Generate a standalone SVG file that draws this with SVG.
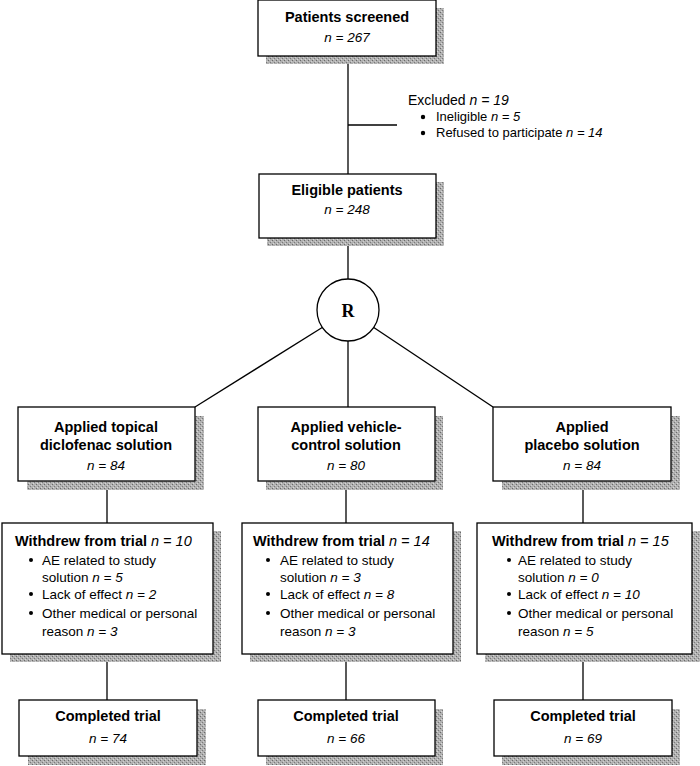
<svg xmlns="http://www.w3.org/2000/svg" width="700" height="766" viewBox="0 0 700 766">
<defs>
<pattern id="stip" width="4" height="4" patternUnits="userSpaceOnUse">
<rect width="4" height="4" fill="#b0b0b0"/>
<rect x="0" y="0" width="1" height="1" fill="#6a6a6a"/>
<rect x="2" y="2" width="1" height="1" fill="#7a7a7a"/>
<rect x="1" y="3" width="1" height="1" fill="#d8d8d8"/>
<rect x="3" y="1" width="1" height="1" fill="#d0d0d0"/>
</pattern>
</defs>
<style>
.box{fill:#fff;stroke:#000;stroke-width:1.3}
.sh{fill:url(#stip)}
.ln{stroke:#000;stroke-width:1.3;fill:none}
text{font-family:"Liberation Sans","DejaVu Sans",sans-serif;font-size:13.5px;fill:#000}
.t{font-weight:bold;font-size:14.5px}
.c{text-anchor:middle}
.i{font-style:italic;font-weight:normal}
.r{font-family:"Liberation Serif",serif;font-weight:bold;font-size:18px}
.ex{font-size:13px}
</style>
<rect width="700" height="766" fill="#fff"/>
<g id="connectors">
<line class="ln" x1="348" y1="56" x2="348" y2="174"/>
<line class="ln" x1="348" y1="125" x2="397" y2="125"/>
<line class="ln" x1="348" y1="238" x2="348" y2="279"/>
<line class="ln" x1="323" y1="327" x2="195" y2="407"/>
<line class="ln" x1="373" y1="327" x2="493" y2="407"/>
<line class="ln" x1="348" y1="341" x2="348" y2="407"/>
<line class="ln" x1="107" y1="481" x2="107" y2="523"/>
<line class="ln" x1="346" y1="481" x2="346" y2="523"/>
<line class="ln" x1="583" y1="481" x2="583" y2="523"/>
<line class="ln" x1="107" y1="654" x2="107" y2="700"/>
<line class="ln" x1="346" y1="654" x2="346" y2="700"/>
<line class="ln" x1="583" y1="654" x2="583" y2="700"/>
</g>
<g id="screened">
<rect class="sh" x="266" y="8" width="178" height="56"/>
<rect class="box" x="258" y="0" width="178" height="56"/>
<text class="t c" x="347" y="22">Patients screened</text>
<text class="c i" x="347" y="42">n = 267</text>
</g>
<g id="excluded">
<text x="408" y="105" style="font-size:14px">Excluded <tspan class="i">n = 19</tspan></text>
<circle cx="423" cy="117" r="2.2"/>
<text class="ex" x="436" y="121">Ineligible <tspan class="i">n = 5</tspan></text>
<circle cx="423" cy="133" r="2.2"/>
<text class="ex" x="436" y="137">Refused to participate <tspan class="i">n = 14</tspan></text>
</g>
<g id="eligible">
<rect class="sh" x="267" y="182" width="177" height="64"/>
<rect class="box" x="259" y="174" width="177" height="64"/>
<text class="t c" x="347" y="195">Eligible patients</text>
<text class="c i" x="347" y="214">n = 248</text>
</g>
<g id="randomize">
<circle class="box" cx="348" cy="310" r="31"/>
<text class="c r" x="348" y="317">R</text>
</g>
<g id="arm1">
<rect class="sh" x="27" y="416" width="177" height="74"/>
<rect class="box" x="18" y="407" width="177" height="74"/>
<text class="t c" x="106" y="432">Applied topical</text>
<text class="t c" x="106" y="450">diclofenac solution</text>
<text class="c i" x="106" y="470">n = 84</text>
</g>
<g id="arm2">
<rect class="sh" x="266" y="416" width="177" height="74"/>
<rect class="box" x="258" y="407" width="177" height="74"/>
<text class="t c" x="346" y="432">Applied vehicle-</text>
<text class="t c" x="346" y="450">control solution</text>
<text class="c i" x="346" y="470">n = 80</text>
</g>
<g id="arm3">
<rect class="sh" x="502" y="416" width="178" height="74"/>
<rect class="box" x="493" y="407" width="178" height="74"/>
<text class="t c" x="582" y="432">Applied</text>
<text class="t c" x="582" y="450">placebo solution</text>
<text class="c i" x="582" y="470">n = 84</text>
</g>
<g id="withdrew1">
<rect class="sh" x="10" y="531" width="211" height="131"/>
<rect class="box" x="2" y="523" width="211" height="131"/>
<text class="t" x="15" y="546">Withdrew from trial <tspan class="i">n = 10</tspan></text>
<circle cx="31" cy="560" r="2"/><text x="42" y="565">AE related to study</text>
<text x="42" y="582">solution <tspan class="i">n = 5</tspan></text>
<circle cx="31" cy="594" r="2"/><text x="42" y="599">Lack of effect <tspan class="i">n = 2</tspan></text>
<circle cx="31" cy="613" r="2"/><text x="42" y="618">Other medical or personal</text>
<text x="42" y="636">reason <tspan class="i">n = 3</tspan></text>
</g>
<g id="withdrew2">
<rect class="sh" x="250" y="531" width="211" height="131"/>
<rect class="box" x="242" y="523" width="211" height="131"/>
<text class="t" x="253" y="546">Withdrew from trial <tspan class="i">n = 14</tspan></text>
<circle cx="268" cy="560" r="2"/><text x="280" y="565">AE related to study</text>
<text x="280" y="582">solution <tspan class="i">n = 3</tspan></text>
<circle cx="268" cy="594" r="2"/><text x="280" y="599">Lack of effect <tspan class="i">n = 8</tspan></text>
<circle cx="268" cy="613" r="2"/><text x="280" y="618">Other medical or personal</text>
<text x="280" y="636">reason <tspan class="i">n = 3</tspan></text>
</g>
<g id="withdrew3">
<rect class="sh" x="485" y="531" width="215" height="131"/>
<rect class="box" x="477" y="523" width="215" height="131"/>
<text class="t" x="492" y="546">Withdrew from trial <tspan class="i">n = 15</tspan></text>
<circle cx="509" cy="560" r="2"/><text x="518" y="565">AE related to study</text>
<text x="518" y="582">solution <tspan class="i">n = 0</tspan></text>
<circle cx="509" cy="594" r="2"/><text x="518" y="599">Lack of effect <tspan class="i">n = 10</tspan></text>
<circle cx="509" cy="613" r="2"/><text x="518" y="618">Other medical or personal</text>
<text x="518" y="636">reason <tspan class="i">n = 5</tspan></text>
</g>
<g id="completed1">
<rect class="sh" x="28" y="709" width="178" height="56"/>
<rect class="box" x="19" y="700" width="178" height="56"/>
<text class="t c" x="108" y="721">Completed trial</text>
<text class="c i" x="108" y="743">n = 74</text>
</g>
<g id="completed2">
<rect class="sh" x="266" y="709" width="177" height="56"/>
<rect class="box" x="258" y="700" width="177" height="56"/>
<text class="t c" x="346" y="721">Completed trial</text>
<text class="c i" x="346" y="743">n = 66</text>
</g>
<g id="completed3">
<rect class="sh" x="502" y="709" width="178" height="56"/>
<rect class="box" x="494" y="700" width="178" height="56"/>
<text class="t c" x="583" y="721">Completed trial</text>
<text class="c i" x="583" y="743">n = 69</text>
</g>
</svg>
